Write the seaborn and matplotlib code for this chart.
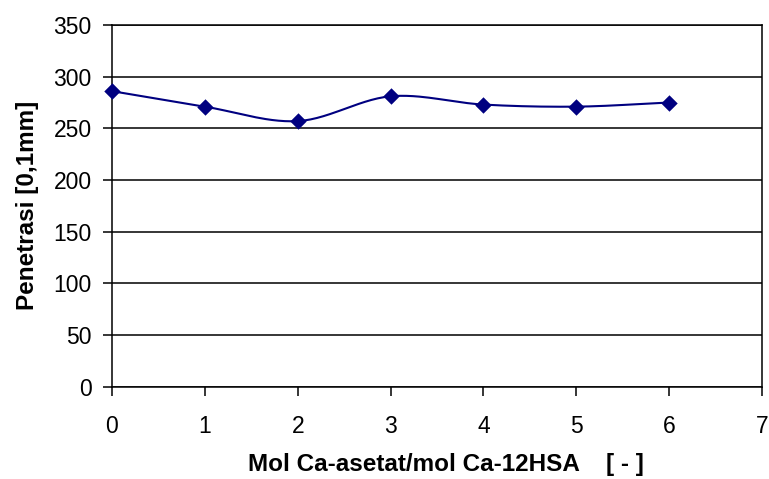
import numpy as np
import pandas as pd
import matplotlib
matplotlib.use("Agg")
import matplotlib.pyplot as plt
import seaborn as sns

# Molar ratio vs. penetration
mol_ratio = [0, 1, 2, 3, 4, 5, 6]
penetrasi = [286, 271, 257, 281, 273, 271, 275]

x_ticks = [0, 1, 2, 3, 4, 5, 6, 7]
y_ticks = [0, 50, 100, 150, 200, 250, 300, 350]

sns.set_theme(style="white")
plt.rcParams["font.family"] = ["Liberation Sans", "DejaVu Sans"]
plt.rcParams["text.color"] = "black"
plt.rcParams["axes.labelcolor"] = "black"

df = pd.DataFrame({"ratio": mol_ratio, "pen": penetrasi})


def smooth_curve(x, y, n=30):
    """Catmull-Rom spline through the points (smoothed-line look)."""
    x = np.asarray(x, float)
    y = np.asarray(y, float)
    px = np.concatenate([[2 * x[0] - x[1]], x, [2 * x[-1] - x[-2]]])
    py = np.concatenate([[2 * y[0] - y[1]], y, [2 * y[-1] - y[-2]]])
    xs, ys = [], []
    t = np.linspace(0, 1, n)
    for i in range(1, len(px) - 2):
        for arr, out in ((px, xs), (py, ys)):
            p0, p1, p2, p3 = arr[i - 1], arr[i], arr[i + 1], arr[i + 2]
            seg = 0.5 * ((2 * p1) + (-p0 + p2) * t
                         + (2 * p0 - 5 * p1 + 4 * p2 - p3) * t ** 2
                         + (-p0 + 3 * p1 - 3 * p2 + p3) * t ** 3)
            out.append(seg if i == 1 else seg[1:])
    return np.concatenate(xs), np.concatenate(ys)


fig = plt.figure(figsize=(7.69, 4.79), dpi=100)
ax = fig.add_axes([0.1456, 0.1927, 0.8453, 0.7551])

navy = "#000080"
sx, sy = smooth_curve(df["ratio"], df["pen"])
ax.plot(sx, sy, color=navy, lw=1.5, zorder=3)
sns.scatterplot(data=df, x="ratio", y="pen", marker="D", s=70, color=navy,
                edgecolor=navy, linewidth=0, ax=ax, zorder=4, clip_on=False)

ax.set_xlim(0, 7)
ax.set_ylim(0, 350)
ax.set_xticks(x_ticks)
ax.set_yticks(y_ticks)
ax.yaxis.grid(True, color="black", lw=1.1)
ax.xaxis.grid(False)
ax.set_axisbelow(True)

for sp in ax.spines.values():
    sp.set_color("black")
    sp.set_linewidth(1.1)
    sp.set_visible(True)

ax.tick_params(axis="both", direction="out", length=6.5, width=1.1,
               colors="black", labelsize=16.5, left=True, bottom=True)
ax.tick_params(axis="x", pad=14)
ax.tick_params(axis="y", pad=8)

ax.set_xlabel("Mol Ca-asetat/mol Ca-12HSA    [ - ]", fontsize=17.5,
              fontweight="bold")
ax.set_ylabel("Penetrasi [0,1mm]", fontsize=17.5, fontweight="bold")
ax.xaxis.set_label_coords(0.514, -0.183)
ax.yaxis.set_label_coords(-0.113, 0.5)

fig.savefig("out.png", dpi=100, facecolor="white")
